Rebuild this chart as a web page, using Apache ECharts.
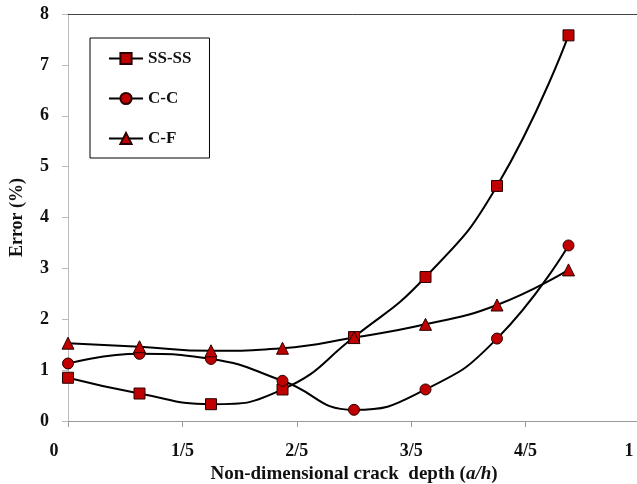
<!DOCTYPE html>
<html>
<head>
<meta charset="utf-8">
<script src="https://cdn.jsdelivr.net/npm/echarts@6/dist/echarts.min.js"></script>
<style>html,body{margin:0;padding:0;background:#fff}#c{width:637px;height:484px}</style>
</head>
<body>
<div id="c"></div>
<script>
var xValues = [0, 0.125, 0.25, 0.375, 0.5, 0.625, 0.75, 0.875];
var ssValues = [0.85, 0.54, 0.33, 0.62, 1.65, 2.83, 4.62, 7.58];
var ccValues = [1.13, 1.32, 1.22, 0.79, 0.22, 0.62, 1.62, 3.45];
var cfValues = [1.53, 1.46, 1.38, 1.43, 1.64, 1.90, 2.28, 2.97];
var xTickLabels = ['0', '1/5', '2/5', '3/5', '4/5', '1'];
var seriesNames = ['SS-SS', 'C-C', 'C-F'];

function pairs(ys) { return xValues.map(function (x, i) { return [x, ys[i]]; }); }

var FONT = '"Liberation Serif", serif';
var markerStyle = { color: '#C00000', borderColor: '#2a0000', borderWidth: 1 };

function mkSeries(name, ys, symbol, size) {
  return {
    name: name, type: 'line', data: pairs(ys), smooth: 0.5,
    symbol: symbol, symbolSize: size,
    lineStyle: { color: '#000', width: 2 },
    itemStyle: markerStyle,
    emphasis: { disabled: true }
  };
}

var chart = echarts.init(document.getElementById('c'));
chart.setOption({
  animation: false,
  backgroundColor: '#fff',
  grid: { left: 68, right: -3, top: 14, bottom: 63, containLabel: false, outerBoundsMode: 'none' },
  legend: {
    orient: 'vertical', left: 90, top: 38,
    padding: [12, 18, 11, 18],
    itemGap: 23, itemWidth: 34, itemHeight: 14,
    borderColor: '#000', borderWidth: 1,
    textStyle: { fontFamily: FONT, fontWeight: 'bold', fontSize: 17, color: '#111' },
    data: seriesNames
  },
  xAxis: [{
    type: 'value', min: 0, max: 1, interval: 0.2,
    name: '{n|Non-dimensional crack  depth (}{i|a/h}{n|)}',
    nameLocation: 'middle', nameGap: 41,
    nameTextStyle: {
      rich: {
        n: { fontFamily: FONT, fontWeight: 'bold', fontSize: 19, color: '#111' },
        i: { fontFamily: FONT, fontWeight: 'bold', fontStyle: 'italic', fontSize: 19, color: '#111' }
      }
    },
    axisLine: { lineStyle: { color: '#999', width: 1 } },
    axisTick: { show: true, length: 6, inside: false, lineStyle: { color: '#999' } },
    splitLine: { show: false },
    axisLabel: {
      margin: 21,
      formatter: function (v) {
        var idx = Math.round(v / 0.2);
        var t = xTickLabels[idx];
        if (idx === 0) return '{l|' + t + '}';
        if (idx === xTickLabels.length - 1) return '{r|' + t + '}';
        return '{m|' + t + '}';
      },
      rich: {
        m: { fontFamily: FONT, fontWeight: 'bold', fontSize: 18, color: '#111' },
        l: { fontFamily: FONT, fontWeight: 'bold', fontSize: 18, color: '#111', padding: [0, 28, 0, 0] },
        r: { fontFamily: FONT, fontWeight: 'bold', fontSize: 18, color: '#111', padding: [0, 22, 0, 0] }
      }
    }
  }, {
    type: 'value', min: 0, max: 1, position: 'top',
    axisLine: { show: true, lineStyle: { color: '#444', width: 1 } },
    axisTick: { show: false }, axisLabel: { show: false }, splitLine: { show: false }
  }],
  yAxis: {
    type: 'value', min: 0, max: 8, interval: 1,
    name: 'Error (%)', nameLocation: 'middle', nameGap: 42, nameRotate: 90,
    nameTextStyle: { fontFamily: FONT, fontWeight: 'bold', fontSize: 18, color: '#111' },
    axisLine: { show: true, lineStyle: { color: '#bbb', width: 1 } },
    axisTick: { show: true, length: 6, lineStyle: { color: '#bbb' } },
    splitLine: { show: false },
    axisLabel: { margin: 19, fontFamily: FONT, fontWeight: 'bold', fontSize: 18, color: '#111' }
  },
  series: [
    mkSeries('SS-SS', ssValues, 'rect', 11),
    mkSeries('C-C', ccValues, 'circle', 11),
    mkSeries('C-F', cfValues, 'triangle', 12)
  ]
});
</script>
</body>
</html>
